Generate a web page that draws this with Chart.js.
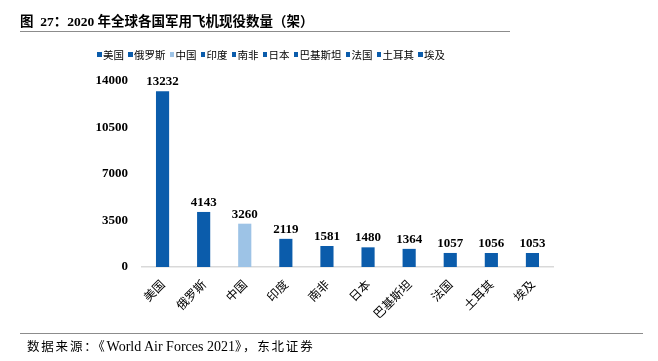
<!DOCTYPE html>
<html>
<head>
<meta charset="utf-8">
<script src="https://cdn.jsdelivr.net/npm/chart.js@4"></script>
<style>
  html, body { margin: 0; padding: 0; background: #fff; }
  #wrap { position: relative; width: 658px; height: 361px; overflow: hidden; }
  #chart { position: absolute; left: 0; top: 0; }
  .title { position: absolute; left: 20px; top: 10px; font: bold 13.5px "Liberation Serif", "Noto Sans CJK SC"; color: #000; white-space: nowrap; }
  .rule-top { position: absolute; left: 20px; top: 31px; width: 490px; height: 0; border-top: 1.5px solid #8c8c8c; }
  .rule-bottom { position: absolute; left: 20px; top: 333px; width: 623px; height: 0; border-top: 1.5px solid #8c8c8c; }
  #legend { position: absolute; left: 97px; top: 47px; font: 10.5px "Noto Sans CJK SC"; color: #000; white-space: nowrap; display: flex; }
  #legend .item { display: flex; align-items: center; margin-right: 4px; }
  #legend .box { width: 4.5px; height: 4.5px; margin-right: 1.5px; }
  .source { position: absolute; left: 27px; top: 336px; font: 12.5px "Noto Sans CJK SC", "Liberation Serif"; letter-spacing: 1.8px; color: #000; white-space: nowrap; }
  .source b { font-weight: normal; font-family: "Liberation Serif"; font-size: 14px; letter-spacing: 0; }
</style>
</head>
<body>
<div id="wrap">
  <canvas id="chart" width="658" height="361"></canvas>
  <div class="title">图&nbsp; 27：2020 年全球各国军用飞机现役数量（架）</div>
  <div class="rule-top"></div>
  <div id="legend"></div>
  <div class="rule-bottom"></div>
  <div class="source">数据来源：《<b>World Air Forces 2021</b>》，东北证券</div>
</div>
<script>
const countries = ['美国', '俄罗斯', '中国', '印度', '南非', '日本', '巴基斯坦', '法国', '土耳其', '埃及'];
const aircraft = [13232, 4143, 3260, 2119, 1581, 1480, 1364, 1057, 1056, 1053];
const yTicks = [0, 3500, 7000, 10500, 14000];

const dark = '#0b5cab';
const light = '#9dc3e6';
const barColors = countries.map(c => c === '中国' ? light : dark);

// legend, one entry per country
const legend = document.getElementById('legend');
countries.forEach((c, i) => {
    const item = document.createElement('span');
    item.className = 'item';
    item.innerHTML = '<span class="box" style="background:' + barColors[i] + '"></span>' + c;
    legend.appendChild(item);
});

// value labels above bars
const valueLabels = {
    id: 'valueLabels',
    afterDatasetsDraw(chart) {
        const ctx = chart.ctx;
        const meta = chart.getDatasetMeta(0);
        ctx.save();
        ctx.font = 'bold 13px "Liberation Serif"';
        ctx.fillStyle = '#000';
        ctx.textAlign = 'center';
        ctx.textBaseline = 'bottom';
        meta.data.forEach((bar, i) => {
            ctx.fillText(aircraft[i], bar.x, bar.y - 3);
        });
        ctx.restore();
    }
};

new Chart(document.getElementById('chart'), {
    type: 'bar',
    data: {
        labels: countries,
        datasets: [{
            data: aircraft,
            backgroundColor: barColors,
            barPercentage: 1,
            categoryPercentage: 0.32
        }]
    },
    options: {
        responsive: false,
        animation: false,
        events: [],
        layout: { padding: { left: 0, top: 81, right: 105, bottom: 0 } },
        plugins: {
            legend: { display: false },
            title: { display: false },
            tooltip: { enabled: false }
        },
        scales: {
            x: {
                grid: { display: false },
                border: { color: '#d9d9d9', width: 1.5 },
                ticks: {
                    minRotation: 45,
                    maxRotation: 45,
                    padding: 2,
                    color: '#000',
                    font: { family: '"Noto Sans CJK SC"', size: 12 }
                },
                afterFit: s => { s.height = 94; }
            },
            y: {
                min: 0,
                max: 14000,
                afterBuildTicks: s => { s.ticks = yTicks.map(v => ({ value: v })); },
                grid: { display: false, drawTicks: false },
                border: { display: false },
                ticks: {
                    padding: 14,
                    color: '#000',
                    callback: v => String(v),
                    font: { family: '"Liberation Serif"', size: 13, weight: 'bold' }
                },
                afterFit: s => { s.width = 142; }
            }
        }
    },
    plugins: [valueLabels]
});
</script>
</body>
</html>
